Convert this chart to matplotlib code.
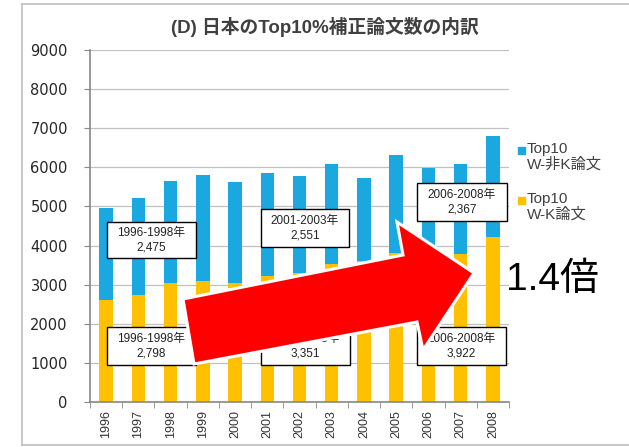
import matplotlib
matplotlib.use("Agg")
import matplotlib.pyplot as plt
from matplotlib.patches import Rectangle, Polygon
import numpy as np

plt.rcParams['font.family'] = ['Liberation Sans', 'Noto Sans CJK JP', 'DejaVu Sans']

# ---- data ----
years = ['1996', '1997', '1998', '1999', '2000', '2001', '2002',
         '2003', '2004', '2005', '2006', '2007', '2008']
wk_papers = [2610, 2740, 3040, 3100, 3050, 3230, 3300, 3520, 3600, 3820, 3770, 3780, 4210]
nonk_papers = [2340, 2480, 2610, 2700, 2580, 2630, 2470, 2570, 2140, 2500, 2210, 2310, 2590]
yticks = [0, 1000, 2000, 3000, 4000, 5000, 6000, 7000, 8000, 9000]
title = '(D) 日本のTop10%補正論文数の内訳'
legend_labels = ['Top10\nW-非K論文', 'Top10\nW-K論文']
periods = ['1996-1998年', '2001-2003年', '2006-2008年']
avg_nonk = ['2,475', '2,551', '2,367']
avg_wk = ['2,798', '3,351', '3,922']
ratio_text = '1.4倍'

blue = '#1AA8E0'
yellow = '#FFC000'

W, H = 629, 447
fig = plt.figure(figsize=(W / 100, H / 100), dpi=100)

# main axes (pixel layout: x 90..509, y 50..402)
ax = fig.add_axes([90 / W, (H - 402) / H, (509 - 90) / W, (402 - 50) / H])
x = np.arange(len(years))
ax.bar(x, wk_papers, width=0.42, color=yellow, zorder=3)
ax.bar(x, nonk_papers, width=0.42, bottom=wk_papers, color=blue, zorder=3)
ax.set_xlim(-0.5, len(years) - 0.5)
ax.set_ylim(0, 9000)
ax.set_yticks(yticks)
ax.set_yticklabels([str(v) for v in yticks], fontsize=10.5, color='#262626',
                   family=['DejaVu Sans'])
ax.set_xticks(x)
ax.set_xticklabels(years, rotation=90, fontsize=9, color='#333333')
ax.set_xticks(np.arange(-0.5, len(years)), minor=True)
ax.tick_params(axis='x', which='major', length=0, pad=6)
ax.tick_params(axis='x', which='minor', length=4, color='#888888', direction='out')
ax.tick_params(axis='y', length=4.5, color='#888888', direction='out', pad=11.5)
ax.grid(axis='y', color='#C0C0C0', linewidth=0.9, zorder=0)
for s in ['top', 'right']:
    ax.spines[s].set_visible(False)
for s in ['left', 'bottom']:
    ax.spines[s].set_color('#888888')
    ax.spines[s].set_linewidth(1.2)
ax.spines['bottom'].set_zorder(4)

# overlay in pixel coordinates
ov = fig.add_axes([0, 0, 1, 1], zorder=10)
ov.set_xlim(0, W)
ov.set_ylim(H, 0)
ov.axis('off')
ov.patch.set_alpha(0)

# frame
ov.plot([22, W], [4, 4], color='#BFBFBF', lw=1.2)
ov.plot([22, 22], [4, 445], color='#BFBFBF', lw=1.2)
ov.plot([22, W], [445, 445], color='#BFBFBF', lw=1.2)

# title
ov.text(325, 27, title, ha='center', va='center', fontsize=13.5, fontweight='bold',
        color='#404040')

# legend
leg_y = [150, 200]
for (ly, lab, col) in zip(leg_y, legend_labels, [blue, yellow]):
    ov.add_patch(Rectangle((518, ly - 3.5), 7, 7, color=col))
    ov.text(527, ly - 8, lab, ha='left', va='top', fontsize=11, color='#404040',
            linespacing=1.1)

# annotation boxes
up_boxes = [(107, 222, 89, 36), (261, 209, 88, 38), (417, 183, 90, 38)]
low_boxes = [(107, 327, 89, 38), (261, 327, 89, 38), (417, 327, 89, 38)]
for (bx, by, bw, bh), p, v in zip(up_boxes, periods, avg_nonk):
    ov.add_patch(Rectangle((bx, by), bw, bh, facecolor='white', edgecolor='black', lw=1, zorder=2))
    ov.text(bx + bw / 2, by + bh / 2, p + '\n' + v, ha='center', va='center',
            fontsize=8.5, color='#222222', zorder=3, linespacing=1.3)
for (bx, by, bw, bh), p, v in zip(low_boxes, periods, avg_wk):
    ov.add_patch(Rectangle((bx, by), bw, bh, facecolor='white', edgecolor='black', lw=1, zorder=2))
    ov.text(bx + bw / 2, by + bh / 2, p + '\n' + v, ha='center', va='center',
            fontsize=8.5, color='#222222', zorder=3, linespacing=1.3)

# big arrow
arrow_pts = [(183, 299), (403, 255), (397, 222), (474, 273), (423, 350), (417, 322), (194, 364)]
ov.add_patch(Polygon(arrow_pts, closed=True, facecolor='#FF0000', edgecolor='white',
                     lw=2.2, zorder=5, joinstyle='miter'))

# ratio text
ov.text(506, 280, ratio_text, ha='left', va='center', fontsize=28, color='black', zorder=6)

fig.savefig('out.png', dpi=100)
